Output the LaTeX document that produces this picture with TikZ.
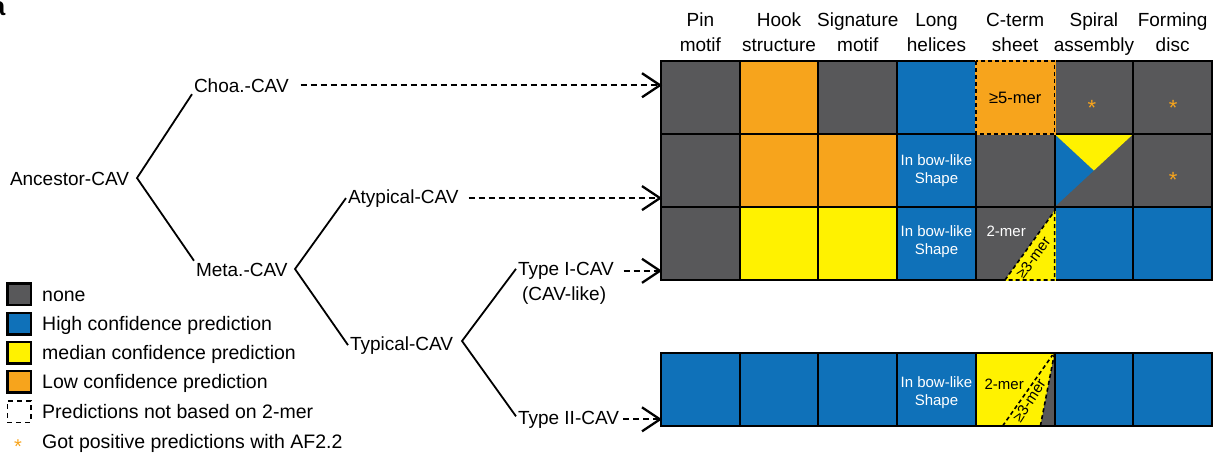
\documentclass[tikz,border=0pt]{standalone}
\usepackage{fontspec}
\setmainfont{Liberation Sans}
\usetikzlibrary{arrows.meta,calc}
\definecolor{cnone}{RGB}{88,88,90}
\definecolor{chigh}{RGB}{15,113,185}
\definecolor{cmed}{RGB}{255,242,0}
\definecolor{clow}{RGB}{247,164,28}
\begin{document}
\begin{tikzpicture}[x=1pt,y=-1pt,
  txt/.style={font=\fontsize{19}{23}\selectfont, inner sep=0pt},
  treenode/.style={txt, anchor=base west, outer sep=2pt},
  legtext/.style={font=\fontsize{19.5}{23}\selectfont, inner sep=0pt, anchor=base west},
  branch/.style={line width=1.8pt},
  feed/.style={line width=1.8pt, dash pattern=on 6pt off 4pt},
  chevron/.style={line width=2.3pt, line join=miter},
  cell/.style={minimum width=78.71pt, minimum height=73pt, inner sep=0pt, outer sep=0pt},
  frame/.style={draw=black, line width=2pt},
  dashframe/.style={draw=black, line width=1.6pt, dash pattern=on 4pt off 3pt},
  celltext/.style={font=\fontsize{15}{17.5}\selectfont, align=center, inner sep=0pt},
  star/.style={text=clow, font=\fontsize{22}{22}\selectfont, inner sep=0pt, anchor=base},
  swatch/.style={minimum width=23.5pt, minimum height=21.5pt, inner sep=0pt, draw=black, line width=2.5pt},
  head/.style={font=\fontsize{19}{25}\selectfont, align=center, anchor=north, inner sep=0pt}]
\useasboundingbox (0,0) rectangle (1217,456);

% panel letter
\node[font=\bfseries\fontsize{26}{26}\selectfont, anchor=base east, inner sep=0pt] (panel) at (5.5,15) {a};

% column headers
\foreach \t [count=\i] in {{Pin\\motif},{Hook\\structure},{Signature\\motif},{Long\\helices},{C-term\\sheet},{Spiral\\assembly},{Forming\\disc}}
  \node[head] (h\i) at ({661+78.71*(\i-0.5)},13) {\t};

% feature grid: cell fills
\foreach \fc [count=\i] in {cnone,clow,cnone,chigh,clow,cnone,cnone}
  \node[cell,fill=\fc] (c1\i) at ({661+78.71*(\i-0.5)},97.5) {};
\foreach \fc [count=\i] in {cnone,clow,clow,chigh,cnone,cnone,cnone}
  \node[cell,fill=\fc] (c2\i) at ({661+78.71*(\i-0.5)},170.5) {};
\foreach \fc [count=\i] in {cnone,cmed,cmed,chigh,cnone,chigh,chigh}
  \node[cell,fill=\fc] (c3\i) at ({661+78.71*(\i-0.5)},243.5) {};
\foreach \fc [count=\i] in {chigh,chigh,chigh,chigh,cmed,chigh,chigh}
  \node[cell,fill=\fc] (c4\i) at ({661+78.71*(\i-0.5)},389.5) {};

% split cells
\fill[chigh] (c26.north west) -- (c26.center) -- (c26.south west) -- cycle;
\fill[cmed] (c26.north west) -- (c26.north east) -- (c26.center) -- cycle;

\coordinate (p1) at ($(c35.south west)!0.37!(c35.south east)$);
\coordinate (p2) at ($(c35.north east)+(0,4)$);
\fill[cmed] (p1) -- (p2) -- (c35.south east) -- cycle;

\coordinate (q0) at ($(c45.south west)!0.34!(c45.south east)$);
\coordinate (q1) at ($(c45.south west)!0.82!(c45.south east)$);
\coordinate (q2) at ($(c45.north east)+(-2,2)$);
\fill[cnone] (q1) -- (c45.north east) -- (c45.south east) -- cycle;

% cell borders
\foreach \row in {1,...,4}
  \foreach \col in {1,...,7}
    \draw[frame] (c\row\col.north west) rectangle (c\row\col.south east);

% dashed outlines: predictions not based on 2-mer
\draw[clow, line width=2.4pt] (c15.north west) rectangle (c15.south east);
\draw[dashframe] (c15.north west) rectangle (c15.south east);
\draw[cmed, line width=2.4pt] (p2) -- (c35.south east) -- (p1);
\draw[dashframe] (p1) -- (p2) -- (c35.south east) -- cycle;
\draw[dashframe] (q0) -- (q2);
\draw[dashframe] (q1) -- (c45.north east);

% cell labels
\node[celltext, font=\fontsize{16.5}{18}\selectfont] (l15) at (c15) {≥5-mer};
\node[celltext, text=white] (l24) at (c24) {In bow-like\\Shape};
\node[celltext, text=white] (l34) at ($(c34.center)+(0,-2)$) {In bow-like\\Shape};
\node[celltext, text=white] (l44) at ($(c44.center)+(0,3)$) {In bow-like\\Shape};
\node[celltext, text=white] (l35a) at ($(c35.center)+(-9,-12)$) {2-mer};
\node[celltext, rotate=54] (l35b) at ($(c35.center)+(18,14)$) {≥3-mer};
\node[celltext] (l45a) at ($(c45.center)+(-11,-5)$) {2-mer};
\node[celltext, rotate=57] (l45b) at ($(c45.center)+(14,11)$) {≥3-mer};

% AF2.2 marks
\node[star] (s16) at ($(c16.center)+(-2,18)$) {*};
\node[star] (s17) at ($(c17.center)+(0.5,18)$) {*};
\node[star] (s27) at ($(c27.center)+(0.5,16.5)$) {*};

% tree
\node[treenode] (anc) at (8,185) {Ancestor-CAV};
\node[treenode] (choa) at (192,92) {Choa.-CAV};
\node[treenode] (meta) at (194,276) {Meta.-CAV};
\node[treenode] (atyp) at (346,203) {Atypical-CAV};
\node[treenode] (typ) at (348,350) {Typical-CAV};
\node[treenode] (t1) at (516,275.5) {Type I-CAV};
\node[treenode] (t1b) at (520,300) {(CAV-like)};
\node[treenode] (t2) at (516,424) {Type II-CAV};

\coordinate (v0) at (137,178);
\coordinate (v1) at (295,269);
\coordinate (v2) at (462,341);
\draw[branch] (choa.south west) -- (v0) -- (meta.north west);
\draw[branch] (atyp.west) -- (v1) -- (typ.west);
\draw[branch] ([yshift=2pt]t1.west) -- (v2) -- ([yshift=3pt]t2.west);

% links to the grid rows
\coordinate (e1) at ($(choa.east -| c11.west)+(-1,0)$);
\coordinate (e2) at ($(atyp.east -| c21.west)+(-1,0)$);
\coordinate (e3) at ($(t1.east -| c31.west)+(-1,0)$);
\coordinate (e4) at ($(t2.east -| c41.west)+(-1,0)$);
\foreach \src/\gap/\tip in {choa/10/e1, atyp/8/e2, t1/8/e3, t2/2/e4} {
  \draw[feed] ([xshift=\gap pt]\src.east) -- ([xshift=-2pt]\tip);
  \draw[chevron] ($(\tip)+(-18,-12)$) -- (\tip) -- ($(\tip)+(-18,12)$);
}

% legend
\node[swatch, fill=cnone] (k1) at (19,294) {};
\node[swatch, fill=chigh] (k2) at (19,323.5) {};
\node[swatch, fill=cmed] (k3) at (19,352.5) {};
\node[swatch, fill=clow] (k4) at (19,381.5) {};
\node[swatch, line width=1.5pt, dash pattern=on 5pt off 4pt] (k5) at (19,411.5) {};
\node[star, font=\fontsize{20}{20}\selectfont] (k6) at (18,453) {*};
\node[legtext] (k1t) at (42,301) {none};
\node[legtext] (k2t) at (42,330.5) {High confidence prediction};
\node[legtext] (k3t) at (42,359.5) {median confidence prediction};
\node[legtext] (k4t) at (42,388.5) {Low confidence prediction};
\node[legtext] (k5t) at (42,418.5) {Predictions not based on 2-mer};
\node[legtext] (k6t) at (42,448.5) {Got positive predictions with AF2.2};
\end{tikzpicture}
\end{document}
